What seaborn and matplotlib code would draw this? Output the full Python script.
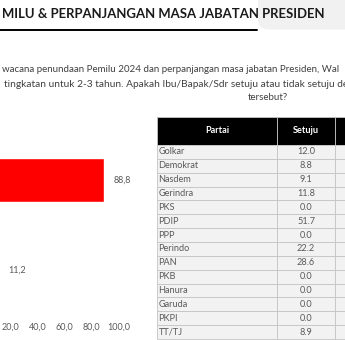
import matplotlib
matplotlib.use("Agg")
import matplotlib.pyplot as plt
import seaborn as sns
import pandas as pd
from matplotlib.patches import FancyBboxPatch
from matplotlib.lines import Line2D

# ---------------- data ----------------
title = "MILU & PERPANJANGAN MASA JABATAN PRESIDEN"
question_lines = [
    "wacana penundaan Pemilu 2024 dan perpanjangan masa jabatan Presiden, Wal",
    "tingkatan untuk 2-3 tahun. Apakah Ibu/Bapak/Sdr setuju atau tidak setuju der",
    "tersebut?",
]
answers = ["Setuju", "Tidak Setuju"]
answer_pct = [88.8, 11.2]
x_ticks = [20, 40, 60, 80, 100]

table_cols = ["Partai", "Setuju", "Tidak Setuju"]
parties = ["Golkar", "Demokrat", "Nasdem", "Gerindra", "PKS", "PDIP", "PPP",
           "Perindo", "PAN", "PKB", "Hanura", "Garuda", "PKPI", "TT/TJ"]
party_setuju = [12.0, 8.8, 9.1, 11.8, 0.0, 51.7, 0.0, 22.2, 28.6, 0.0, 0.0, 0.0, 0.0, 8.9]

W, H = 345, 340
sns.set_style("white")
plt.rcParams["font.family"] = ["Lato", "DejaVu Sans"]

fig = plt.figure(figsize=(W / 100, H / 100), dpi=100)
fig.patch.set_facecolor("white")


def fx(px):
    return px / W


def fy(py):
    return 1 - py / H


renderer = fig.canvas.get_renderer()


def fit(txt, target_px):
    bb = txt.get_window_extent(renderer)
    txt.set_fontsize(txt.get_fontsize() * target_px / bb.width)


# ---------------- header ----------------
box = FancyBboxPatch((fx(258), fy(29.5)), fx(120), fy(-10) - fy(29.5),
                     boxstyle="round,pad=0,rounding_size=0.03",
                     transform=fig.transFigure, facecolor="#f1f1f1",
                     edgecolor="none", zorder=0)
fig.patches.append(box)
fig.add_artist(Line2D([fx(0), fx(257)], [fy(30), fy(30)], color="black",
                      lw=1.4, transform=fig.transFigure))
t = fig.text(fx(2), fy(18.5), title, fontsize=10, fontweight="bold",
             color="#1a1a1a", ha="left", va="baseline")
fit(t, 323)

q_color = "#404040"
q1 = fig.text(fx(2), fy(70), question_lines[0][:-1], fontsize=7, color=q_color,
              ha="left", va="center")
fit(q1, 338)
qs = q1.get_fontsize()
q1.set_text(question_lines[0])
q2 = fig.text(fx(4), fy(84.5), question_lines[1][:-1], fontsize=qs, color=q_color,
              ha="left", va="center")
fit(q2, 339)
q2.set_text(question_lines[1])
fig.text(fx(268), fy(98), question_lines[2], fontsize=qs, color=q_color,
         ha="center", va="center")

# ---------------- bar chart ----------------
df = pd.DataFrame({"Jawaban": answers, "Persen": answer_pct})
ax = fig.add_axes([fx(-16.6), fy(315), fx(135.6), fy(135) - fy(315)])
sns.barplot(data=df, x="Persen", y="Jawaban", hue="Jawaban",
            palette=["#ff0000", "#a6a6a6"], legend=False, width=0.48,
            saturation=1, orient="h", ax=ax)
ax.set_xlim(0, 100)
ax.set_ylim(1.5, -0.5)
ax.set_xticks(x_ticks)
ax.set_xticklabels([f"{v:.1f}".replace(".", ",") for v in x_ticks])
ax.tick_params(axis="x", length=0, pad=5.5, labelsize=6.5, labelcolor="#595959")
ax.set_yticks([])
ax.set_xlabel("")
ax.set_ylabel("")
for s in ax.spines.values():
    s.set_visible(False)
for cont in ax.containers:
    ax.bar_label(cont, labels=[f"{v:.1f}".replace(".", ",") for v in cont.datavalues],
                 padding=7, fontsize=6.5, color="#595959")

# ---------------- table ----------------
col_w = [120, 58, 100]
tax = fig.add_axes([fx(157), fy(339), fx(sum(col_w)), fy(117) - fy(339)])
tax.axis("off")
cell_text = [[p, f"{v:.1f}", ""] for p, v in zip(parties, party_setuju)]
tbl = tax.table(cellText=cell_text, colLabels=table_cols, cellLoc="center",
                bbox=[0, 0, 1, 1])
tbl.auto_set_font_size(False)
for (r, c), cell in tbl.get_celld().items():
    cell.set_width(col_w[c])
    cell.set_height(28 if r == 0 else 13.86)
    cell.set_edgecolor("#c4c4c4")
    cell.set_linewidth(0.6)
    cell.get_text().set_fontsize(6.6)
    if r == 0:
        cell.set_facecolor("black")
        cell.get_text().set_color("white")
        cell.get_text().set_fontweight("bold")
    else:
        cell.set_facecolor("#f2f2f2")
        cell.get_text().set_color("#595959")
        if c == 0:
            cell._loc = "left"
            cell.PAD = 0.012
            cell.get_text().set_ha("left")

fig.savefig("out.png", dpi=100, facecolor="white")
